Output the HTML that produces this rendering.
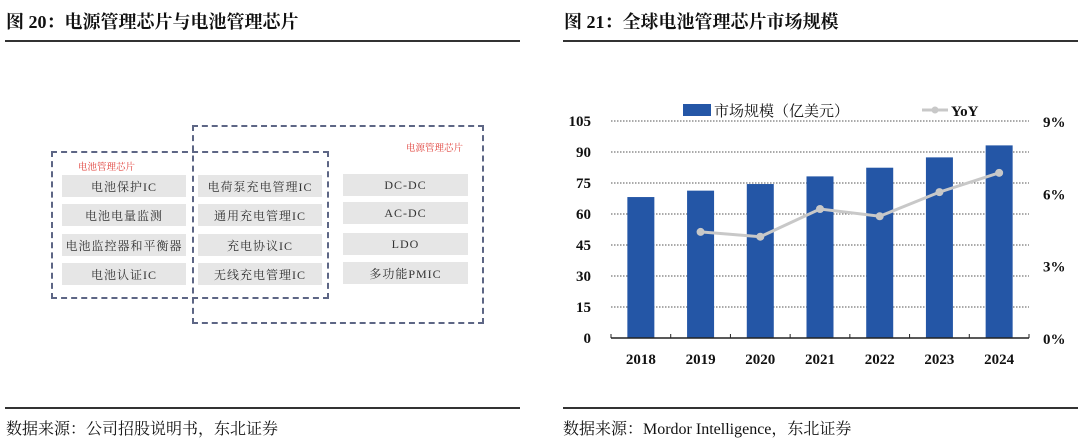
<!DOCTYPE html>
<html><head><meta charset="utf-8">
<style>
body{margin:0;background:#fff;width:1080px;height:448px;overflow:hidden;position:relative;font-family:"Liberation Serif","Noto Serif CJK SC",serif;}
.abs{position:absolute;}
.title{font-size:18px;font-weight:bold;color:#111;top:8px;white-space:nowrap;}
.hline{height:1.5px;background:#333;}
.src{font-size:16px;color:#111;top:416px;white-space:nowrap;}
.box{border:2px dashed #5d6685;box-sizing:border-box;}
.cell{background:#e6e6e6;font-size:12px;color:#333;text-align:center;box-sizing:border-box;display:flex;align-items:center;justify-content:center;font-family:"Liberation Serif","Noto Serif CJK SC",serif;letter-spacing:1px;}
.red{color:#e0403a;font-size:9.5px;white-space:nowrap;}
</style></head><body>
<div class="abs title" style="left:6px;">图 20：电源管理芯片与电池管理芯片</div>
<div class="abs hline" style="left:5px;width:515px;top:40px;"></div>
<div class="abs title" style="left:564px;">图 21：全球电池管理芯片市场规模</div>
<div class="abs hline" style="left:563px;width:515px;top:40px;"></div>

<div class="abs box" style="left:192px;top:125px;width:292px;height:199px;"></div>
<div class="abs box" style="left:51px;top:151px;width:278px;height:148px;"></div>
<div class="abs red" style="left:78px;top:159px;">电池管理芯片</div>
<div class="abs red" style="left:406px;top:140px;">电源管理芯片</div>

<div class="abs cell" style="left:62px;top:175px;width:124px;height:22px;">电池保护IC</div>
<div class="abs cell" style="left:62px;top:204px;width:124px;height:22px;">电池电量监测</div>
<div class="abs cell" style="left:62px;top:234px;width:124px;height:22px;">电池监控器和平衡器</div>
<div class="abs cell" style="left:62px;top:263px;width:124px;height:22px;">电池认证IC</div>
<div class="abs cell" style="left:198px;top:175px;width:124px;height:22px;">电荷泵充电管理IC</div>
<div class="abs cell" style="left:198px;top:204px;width:124px;height:22px;">通用充电管理IC</div>
<div class="abs cell" style="left:198px;top:234px;width:124px;height:22px;">充电协议IC</div>
<div class="abs cell" style="left:198px;top:263px;width:124px;height:22px;">无线充电管理IC</div>
<div class="abs cell" style="left:343px;top:174px;width:125px;height:22px;">DC-DC</div>
<div class="abs cell" style="left:343px;top:202px;width:125px;height:22px;">AC-DC</div>
<div class="abs cell" style="left:343px;top:233px;width:125px;height:22px;">LDO</div>
<div class="abs cell" style="left:343px;top:262px;width:125px;height:22px;">多功能PMIC</div>

<svg class="abs" style="left:0;top:0" width="1080" height="448" id="chart"></svg>

<div class="abs hline" style="left:5px;width:515px;top:407px;"></div>
<div class="abs hline" style="left:563px;width:515px;top:407px;"></div>
<div class="abs src" style="left:6px;">数据来源：公司招股说明书，东北证券</div>
<div class="abs src" style="left:563px;">数据来源：Mordor Intelligence，东北证券</div>

<script>
const categories=["2018","2019","2020","2021","2022","2023","2024"];
const marketSize=[68.2,71.3,74.5,78.2,82.4,87.4,93.2];
const yoy=[null,4.4,4.2,5.35,5.05,6.05,6.85];
const leftTicks=[0,15,30,45,60,75,90,105];
const rightTicks=[0,3,6,9];

const NS="http://www.w3.org/2000/svg";
const svg=document.getElementById('chart');
const X0=611,X1=1029,Y0=338,Y1=121;
const band=(X1-X0)/categories.length;
const xC=i=>X0+band*(i+0.5);
const yL=v=>Y0-(v/105)*(Y0-Y1);
const yR=v=>Y0-(v/9)*(Y0-Y1);
function mk(tag,attrs,parent){const e=document.createElementNS(NS,tag);for(const k in attrs)e.setAttribute(k,attrs[k]);(parent||svg).appendChild(e);return e;}
const font='"Liberation Serif","Noto Serif CJK SC",serif';

leftTicks.forEach(t=>{
  if(t>0){const g=mk('line',{x1:X0,x2:X1,y1:yL(t),y2:yL(t),stroke:'#555','stroke-width':1,'stroke-dasharray':'1.5,1.5'});
  
  }
  const tx=mk('text',{x:591,y:yL(t)+5,'text-anchor':'end','font-size':15,'font-weight':'bold','font-family':font,fill:'#111'});
  tx.textContent=t;
  
  
});
rightTicks.forEach(t=>{
  const tx=mk('text',{x:1043,y:yR(t)+6,'font-size':15,'font-weight':'bold','font-family':font,fill:'#111'});
  tx.textContent=t+'%';
  
  
});
categories.forEach((c,i)=>{
  const r=mk('rect',{x:xC(i)-13.5,y:yL(marketSize[i]),width:27,height:Y0-yL(marketSize[i]),fill:'#2456a6'});
  
  
  const tx=mk('text',{x:xC(i),y:364,'text-anchor':'middle','font-size':15,'font-weight':'bold','font-family':font,fill:'#111'});
  tx.textContent=c;
  
  
});
const ax=mk('line',{x1:X0,x2:X1,y1:Y0,y2:Y0,stroke:'#222','stroke-width':1.5});


for(let i=0;i<=categories.length;i++){
  const tk=mk('line',{x1:X0+band*i,x2:X0+band*i,y1:Y0,y2:Y0-4,stroke:'#222','stroke-width':1});
  
  
}
let pts=[];yoy.forEach((v,i)=>{if(v!==null)pts.push(xC(i)+','+yR(v));});
const pl=mk('polyline',{points:pts.join(' '),fill:'none',stroke:'#c8c8c8','stroke-width':3});


yoy.forEach((v,i)=>{if(v===null)return;
  const c=mk('circle',{cx:xC(i),cy:yR(v),r:4,fill:'#c8c8c8'});
  
  
});
const lr=mk('rect',{x:683,y:104,width:28,height:12,fill:'#2456a6'});


const lt=mk('text',{x:714,y:116,'font-size':15,'font-family':font,fill:'#111'});
lt.textContent='市场规模（亿美元）';


const ll=mk('line',{x1:922,x2:948,y1:110,y2:110,stroke:'#c8c8c8','stroke-width':3});


const lc=mk('circle',{cx:935,cy:110,r:3.5,fill:'#c8c8c8'});


const ly=mk('text',{x:951,y:116,'font-size':15,'font-weight':'bold','font-family':font,fill:'#111'});
ly.textContent='YoY';


</script>
</body></html>
